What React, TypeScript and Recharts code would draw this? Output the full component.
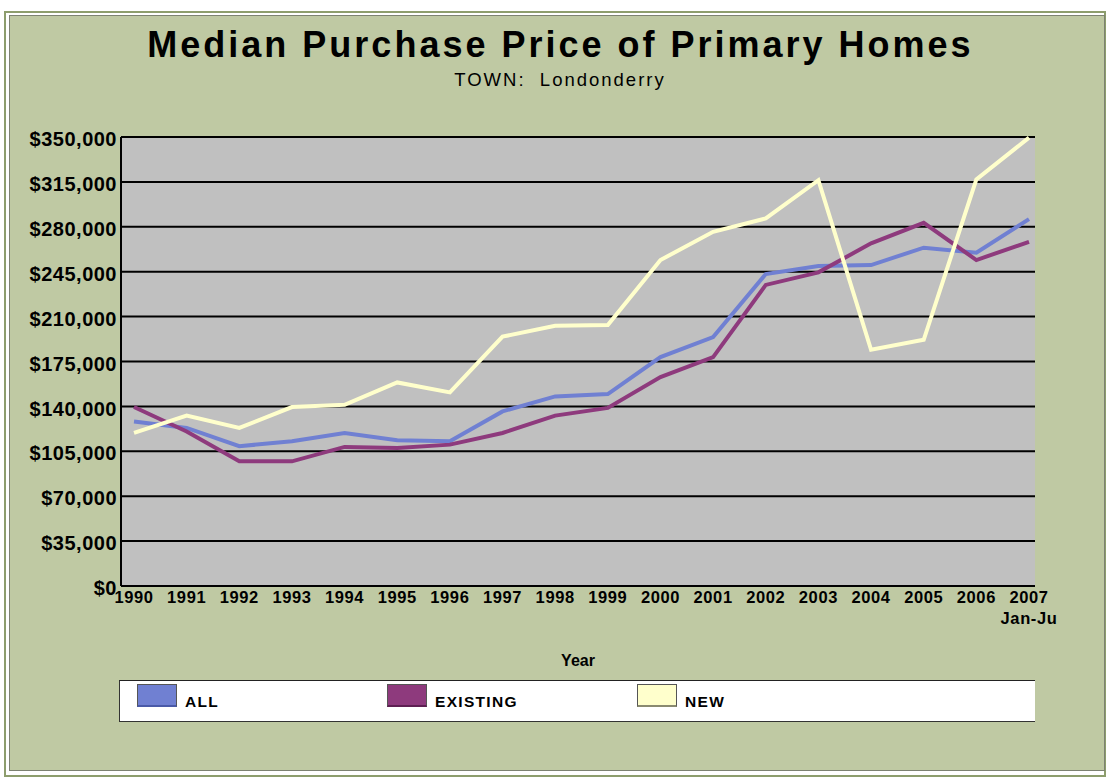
import { LineChart, Line, XAxis, YAxis, CartesianGrid } from 'recharts'

const years = [
  '1990', '1991', '1992', '1993', '1994', '1995', '1996', '1997', '1998',
  '1999', '2000', '2001', '2002', '2003', '2004', '2005', '2006', '2007\nJan-Ju',
]

const allPrices = [
  128300, 123200, 109000, 112800, 119300, 113600, 112800, 136100, 147800,
  149600, 178400, 194000, 243200, 249500, 250200, 263700, 259800, 286000,
]
const existingPrices = [
  139500, 120500, 97200, 97200, 108400, 107600, 110200, 119300, 132800,
  138800, 162900, 178400, 234700, 244500, 267100, 283100, 254100, 268300,
]
const newPrices = [
  119300, 132800, 123200, 139500, 141300, 158700, 150900, 194400, 202800,
  203500, 254100, 276100, 286500, 316300, 184100, 191900, 316900, 349500,
]

const yTicks = [0, 35000, 70000, 105000, 140000, 175000, 210000, 245000, 280000, 315000, 350000]

const series = [
  { key: 'all', name: 'ALL', color: '#7080D2', edge: '#4a5aa8' },
  { key: 'existing', name: 'EXISTING', color: '#8E3A7D', edge: '#5e1f52' },
  { key: 'new', name: 'NEW', color: '#FFFFCC', edge: '#8a8a70' },
]

const data = years.map((year, i) => ({
  year,
  all: allPrices[i],
  existing: existingPrices[i],
  new: newPrices[i],
}))

const font = '"Liberation Sans", Arial, sans-serif'

const formatDollars = (v: number) => '$' + v.toLocaleString('en-US')

function YearTick({ x, y, payload }: any) {
  const lines = String(payload.value).split('\n')
  return (
    <text
      x={x}
      y={y}
      textAnchor="middle"
      fill="#000"
      fontSize={16.5}
      fontWeight={700}
      fontFamily={font}
      letterSpacing={0.6}
    >
      {lines.map((line, i) => (
        <tspan key={i} x={x} dy={i === 0 ? '0.71em' : 21}>
          {line}
        </tspan>
      ))}
    </text>
  )
}

export default function App() {
  return (
    <div style={{ position: 'absolute', left: 0, top: 0, width: 1106, height: 783, background: '#fff', overflow: 'hidden' }}>
      <div
        style={{
          position: 'absolute',
          left: 4,
          top: 11,
          width: 1102,
          height: 766,
          boxSizing: 'border-box',
          border: '2px solid #8d9d6d',
          background: '#fff',
        }}
      />
      <div
        style={{
          position: 'absolute',
          left: 9,
          top: 15,
          width: 1096,
          height: 756,
          boxSizing: 'border-box',
          border: '1px solid #7d8272',
          background: '#BFC9A3',
        }}
      />
      <div
        style={{
          position: 'absolute',
          left: 0,
          top: 27,
          width: 1121,
          textAlign: 'center',
          fontFamily: font,
          fontWeight: 700,
          fontSize: 36,
          lineHeight: '36px',
          letterSpacing: 3,
          color: '#000',
        }}
      >
        Median Purchase Price of Primary Homes
      </div>
      <div
        style={{
          position: 'absolute',
          left: 0,
          top: 71,
          width: 1120,
          textAlign: 'center',
          fontFamily: font,
          fontSize: 18.5,
          lineHeight: '18px',
          letterSpacing: 2,
          color: '#000',
          whiteSpace: 'pre',
        }}
      >
        {'TOWN:  Londonderry'}
      </div>

      <div style={{ position: 'absolute', left: 0, top: 0 }}>
        <LineChart
          width={1106}
          height={783}
          data={data}
          margin={{ top: 137, right: 71, bottom: 117, left: 0 }}
        >
          <CartesianGrid vertical={false} fill="#C0C0C0" fillOpacity={1} stroke="#000" strokeWidth={2} />
          <XAxis
            dataKey="year"
            interval={0}
            padding={{ left: 13, right: 6 }}
            axisLine={false}
            tickLine={false}
            tickSize={0}
            tickMargin={5}
            height={80}
            tick={<YearTick />}
            label={{
              value: 'Year',
              position: 'insideBottom',
              offset: 0,
              fill: '#000',
              fontSize: 16,
              fontWeight: 700,
              fontFamily: font,
            }}
          />
          <YAxis
            domain={[0, 350000]}
            ticks={yTicks}
            interval={0}
            width={121}
            axisLine={{ stroke: '#000', strokeWidth: 2 }}
            tickLine={false}
            tickSize={2}
            tickMargin={2}
            tickFormatter={formatDollars}
            tick={{ fill: '#000', fontSize: 20, fontWeight: 700, fontFamily: font, letterSpacing: 0.5, dy: 2 }}
          />
          <YAxis
            yAxisId="right"
            orientation="right"
            domain={[0, 350000]}
            width={0}
            tick={false}
            tickLine={false}
            axisLine={{ stroke: '#000', strokeWidth: 3 }}
          />
          {series.map((s) => (
            <Line
              key={s.key}
              dataKey={s.key}
              name={s.name}
              type="linear"
              stroke={s.color}
              strokeWidth={4}
              dot={false}
              activeDot={false}
              isAnimationActive={false}
            />
          ))}
        </LineChart>
      </div>

      <div
        style={{
          position: 'absolute',
          left: 119,
          top: 680,
          width: 916,
          height: 42,
          boxSizing: 'border-box',
          background: '#fff',
          borderTop: '1.5px solid #222',
          borderBottom: '1.5px solid #333',
          borderLeft: '1px solid #333',
        }}
      >
        {series.map((s, i) => (
          <div key={s.key}>
            <div
              style={{
                position: 'absolute',
                left: 17 + i * 250,
                top: 3,
                width: 40,
                height: 23,
                boxSizing: 'border-box',
                background: s.color,
                border: '1px solid #555',
                borderBottom: '2px solid ' + s.edge,
              }}
            />
            <div
              style={{
                position: 'absolute',
                left: 65 + i * 250,
                top: 13,
                fontFamily: font,
                fontWeight: 700,
                fontSize: 15.5,
                lineHeight: '15px',
                letterSpacing: 1.3,
                color: '#000',
              }}
            >
              {s.name}
            </div>
          </div>
        ))}
      </div>
    </div>
  )
}
